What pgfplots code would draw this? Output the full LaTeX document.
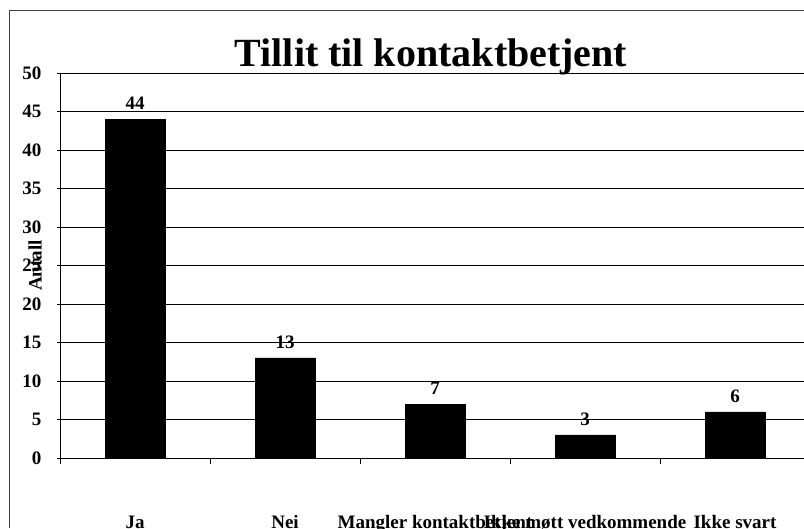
\documentclass[border=0pt]{standalone}
\usepackage{pgfplots}
\pgfplotsset{compat=1.18}
\usepackage{fontspec}
\setmainfont{Liberation Serif}
\begin{document}
\begin{tikzpicture}[x=1pt,y=1pt]
\useasboundingbox (0,0) rectangle (804,528);
\draw[black!75, line width=0.8pt] (9,0) -- (9,518) -- (804,518);
\node[font=\fontsize{40}{44}\selectfont\bfseries, anchor=base] at (431,461) {Tillit til kontaktbetjent};
\begin{axis}[
  at={(60pt,70pt)}, anchor=south west, scale only axis,
  width=750pt, height=385pt,
  xmin=-0.5, xmax=4.5, ymin=0, ymax=50,
  ytick={0,5,...,50},
  xtick={0,1,2,3,4},
  xticklabels={Ja,Nei,Mangler kontaktbetjent,Ikke møtt vedkommende,Ikke svart},
  minor xtick={-0.5,0.5,1.5,2.5,3.5,4.5},
  major x tick style={draw=none},
  minor x tick style={black, line width=0.8pt},
  minor tick length=6pt,
  xtick align=outside,
  ytick align=center,
  major tick length=6pt,
  y tick style={black, line width=0.8pt},
  axis x line*=bottom, axis y line*=left,
  axis line style={black, line width=0.8pt, -},
  ymajorgrids, grid style={black, line width=0.7pt},
  /pgf/number format/assume math mode=true,
  tick label style={font=\fontsize{19}{21}\selectfont\bfseries},
  yticklabel style={xshift=-12pt},
  xticklabel style={anchor=base, yshift=-64pt},
  ylabel={Antall},
  ylabel style={at={(axis description cs:-0.033,0.5)}, anchor=center, font=\fontsize{19}{21}\selectfont\bfseries},
  ybar, bar width=60pt,
  nodes near coords,
  nodes near coords style={font=\fontsize{19}{21}\selectfont\bfseries, yshift=6pt},
  clip=false,
]
\addplot[fill=black, draw=black] coordinates {(0,44) (1,13) (2,7) (3,3) (4,6)};
\end{axis}
\end{tikzpicture}
\end{document}
